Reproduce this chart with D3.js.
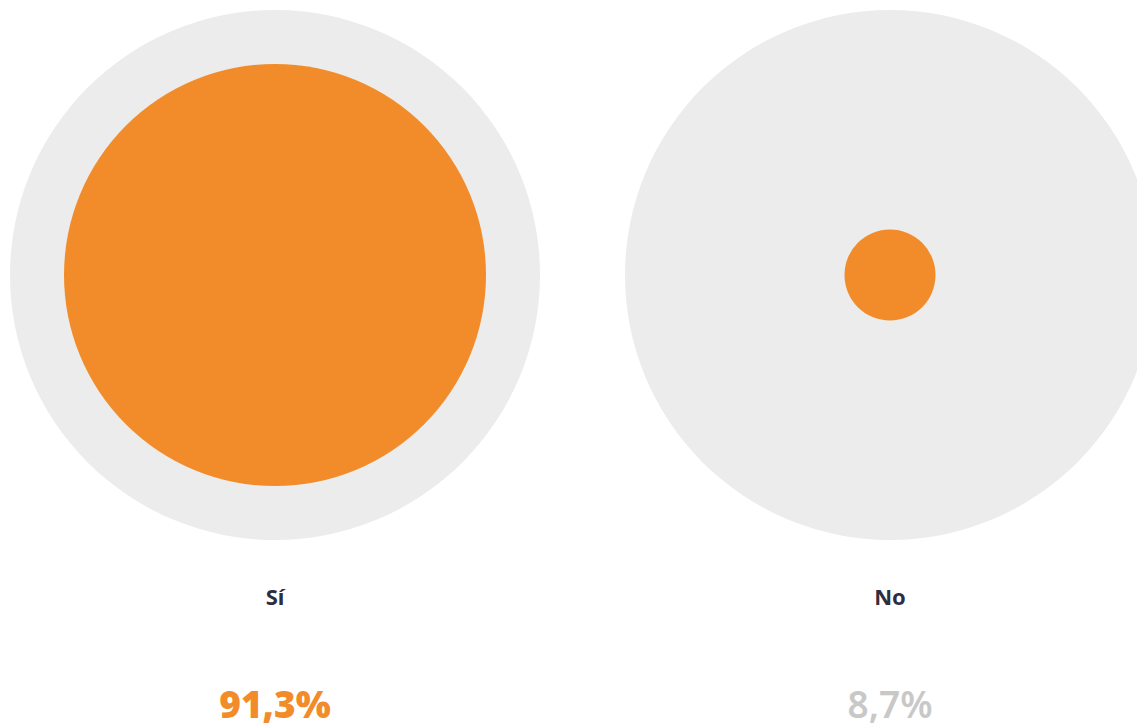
<!DOCTYPE html>
<html>
<head>
<meta charset="utf-8">
<script src="https://cdn.jsdelivr.net/npm/d3@7"></script>
<style>
  body { margin: 0; background: #fff; overflow: hidden; }
  text { font-family: "Source Sans Pro", "Noto Sans", "Open Sans", sans-serif; }
</style>
</head>
<body>
<script>
var width = 1137, height = 728;

// data
var categories = ["Sí", "No"];
var values = [91.3, 8.7];
var valueLabels = ["91,3%", "8,7%"];

var svg = d3.select("body").append("svg")
    .attr("width", width)
    .attr("height", height);

// centres of the two bubbles
var x = d3.scalePoint()
    .domain(categories)
    .range([275, 890]);

var cy = 275;
var outerR = 265;

// radius of the orange bubble
var r = d3.scaleLinear()
    .domain([8.7, 91.3])
    .range([45.5, 211]);

var g = svg.selectAll("g.item")
    .data(categories)
    .enter().append("g")
    .attr("class", "item")
    .attr("transform", function(d) { return "translate(" + x(d) + ",0)"; });

g.append("circle")
    .attr("cy", cy)
    .attr("r", outerR)
    .attr("fill", "#ececec");

g.append("circle")
    .attr("cy", cy)
    .attr("r", function(d, i) { return r(values[i]); })
    .attr("fill", "#f28c2a");

g.append("text")
    .attr("y", 605)
    .attr("text-anchor", "middle")
    .attr("font-size", 22)
    .attr("font-weight", 700)
    .attr("fill", "#2d2d3f")
    .text(function(d) { return d; });

g.append("text")
    .attr("y", 718)
    .attr("text-anchor", "middle")
    .attr("font-size", 37)
    .attr("font-weight", function(d, i) { return i === 0 ? 900 : 600; })
    .attr("fill", function(d, i) { return i === 0 ? "#f28c2a" : "#c8c8c8"; })
    .text(function(d, i) { return valueLabels[i]; });
</script>
</body>
</html>
